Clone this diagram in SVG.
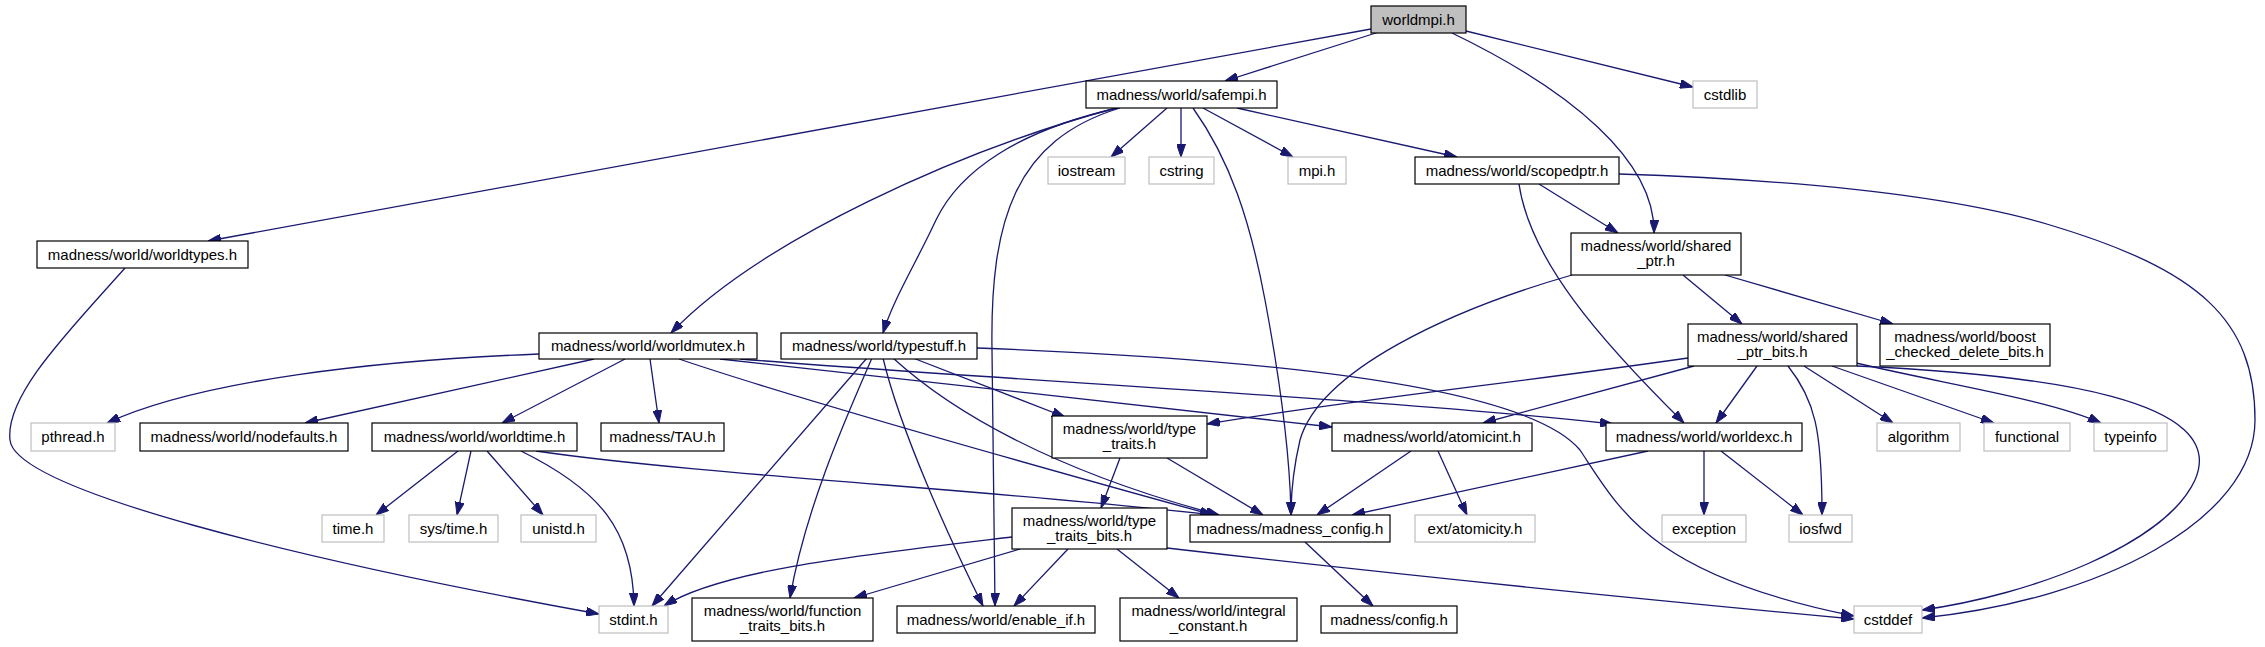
<svg xmlns="http://www.w3.org/2000/svg" width="2265" height="647" viewBox="0 0 2265 647">
<style>
.n rect{fill:#fff;stroke:#000;stroke-width:1.2}
.g rect{fill:#fff;stroke:#bfbfbf;stroke-width:1.2}
.r rect{fill:#bfbfbf;stroke:#000;stroke-width:1.2}
text{font-family:"Liberation Sans",Arial,sans-serif;font-size:15px;fill:#000;text-anchor:middle}
#edges path{fill:none;stroke:#191970;stroke-width:1.3;marker-end:url(#a)}
</style>
<defs>
<marker id="a" markerUnits="userSpaceOnUse" viewBox="0 0 13 9" refX="13" refY="4.5" markerWidth="13" markerHeight="9" orient="auto">
<path d="M0,0 L13,4.5 L0,9 z" fill="#191970" stroke="#191970" stroke-width="1"/>
</marker>
</defs>
<rect width="2265" height="647" fill="#fff"/>
<g id="edges">
<path d="M1371,29 L208,241"/>
<path d="M1379,32 L1225,81"/>
<path d="M1452,33 C1570,90 1655,160 1654,233"/>
<path d="M1466,31 L1693,87"/>
<path d="M1116,108 C960,150 760,240 671,333"/>
<path d="M1118,108 C1020,130 960,170 936,220 C915,265 893,300 883,333"/>
<path d="M1167,108 L1111,157"/>
<path d="M1181,108 L1181,157"/>
<path d="M1203,108 L1293,157"/>
<path d="M1237,108 L1457,157"/>
<path d="M1120,108 C1015,140 990,220 992,350 C993,450 995,540 995,606"/>
<path d="M1193,108 C1230,160 1250,220 1265,300 C1280,380 1290,450 1291,515"/>
<path d="M1539,184 L1618,233"/>
<path d="M1519,184 C1530,260 1600,340 1684,423"/>
<path d="M1619,174 C1800,180 1950,195 2050,225 C2200,270 2255,320 2255,420 C2255,520 2100,600 1922,618"/>
<path d="M125,268 C70,330 5,395 10,440 C15,490 300,560 599,614"/>
<path d="M1572,275 C1450,310 1320,370 1300,440 C1293,470 1291,490 1291,515"/>
<path d="M1683,275 L1742,324"/>
<path d="M1725,275 L1893,324"/>
<path d="M539,354 C380,360 200,380 107,423"/>
<path d="M594,359 L305,423"/>
<path d="M625,359 L502,423"/>
<path d="M650,359 L659,423"/>
<path d="M679,359 C800,400 1050,470 1213,515"/>
<path d="M720,359 C900,380 1150,405 1332,427"/>
<path d="M740,359 C1000,380 1400,400 1613,424"/>
<path d="M913,358 L1065,417"/>
<path d="M893,358 C950,410 1050,470 1219,515"/>
<path d="M867,358 L652,606"/>
<path d="M872,358 C845,420 805,510 790,598"/>
<path d="M883,358 C900,430 950,540 983,606"/>
<path d="M977,348 C1300,360 1530,390 1580,450 C1620,510 1650,575 1854,616"/>
<path d="M1688,358 C1500,385 1350,400 1207,424"/>
<path d="M1694,366 L1483,423"/>
<path d="M1757,366 L1716,423"/>
<path d="M1788,366 C1815,400 1822,430 1822,515"/>
<path d="M1804,366 L1893,423"/>
<path d="M1832,366 L1994,423"/>
<path d="M1856,363 C1950,385 2050,400 2101,423"/>
<path d="M1857,366 C2050,375 2230,400 2195,480 C2165,545 2030,595 1922,610"/>
<path d="M458,451 L376,515"/>
<path d="M471,451 L457,515"/>
<path d="M487,451 L543,515"/>
<path d="M521,451 C600,490 633,530 634,606"/>
<path d="M536,451 C700,475 1000,490 1213,515"/>
<path d="M1120,458 L1101,508"/>
<path d="M1167,458 L1263,515"/>
<path d="M1411,451 L1317,515"/>
<path d="M1438,451 L1467,515"/>
<path d="M1648,451 L1352,515"/>
<path d="M1704,451 L1704,515"/>
<path d="M1721,451 L1803,515"/>
<path d="M1012,537 C860,555 720,570 664,606"/>
<path d="M1020,549 L854,598"/>
<path d="M1068,549 L1014,606"/>
<path d="M1117,549 L1179,598"/>
<path d="M1167,548 C1400,575 1650,600 1854,619"/>
<path d="M1305,542 L1373,606"/>
</g>
<g id="worldmpi" class="r"><rect x="1371" y="6" width="95" height="27"/><text x="1418.5" y="24.5">worldmpi.h</text></g>
<g id="safempi" class="n"><rect x="1086" y="81" width="191" height="27"/><text x="1181.5" y="99.5">madness/world/safempi.h</text></g>
<g id="cstdlib" class="g"><rect x="1693" y="81" width="64" height="27"/><text x="1725" y="99.5">cstdlib</text></g>
<g id="worldtypes" class="n"><rect x="37" y="241" width="211" height="27"/><text x="142.5" y="259.5">madness/world/worldtypes.h</text></g>
<g id="iostream" class="g"><rect x="1048" y="157" width="77" height="27"/><text x="1086.5" y="175.5">iostream</text></g>
<g id="cstring" class="g"><rect x="1149" y="157" width="65" height="27"/><text x="1181.5" y="175.5">cstring</text></g>
<g id="mpih" class="g"><rect x="1288" y="157" width="58" height="27"/><text x="1317" y="175.5">mpi.h</text></g>
<g id="scopedptr" class="n"><rect x="1415" y="157" width="204" height="27"/><text x="1517" y="175.5">madness/world/scopedptr.h</text></g>
<g id="shared_ptr" class="n"><rect x="1571" y="233" width="170" height="42"/><text x="1656" y="250.5">madness/world/shared</text><text x="1656" y="266">_ptr.h</text></g>
<g id="worldmutex" class="n"><rect x="539" y="333" width="218" height="26"/><text x="648" y="351">madness/world/worldmutex.h</text></g>
<g id="typestuff" class="n"><rect x="781" y="333" width="196" height="26"/><text x="879" y="351">madness/world/typestuff.h</text></g>
<g id="shared_ptr_bits" class="n"><rect x="1688" y="324" width="169" height="42"/><text x="1772.5" y="341.5">madness/world/shared</text><text x="1772.5" y="357">_ptr_bits.h</text></g>
<g id="boost_checked_delete_bits" class="n"><rect x="1880" y="324" width="170" height="42"/><text x="1965" y="341.5">madness/world/boost</text><text x="1965" y="357">_checked_delete_bits.h</text></g>
<g id="pthread" class="g"><rect x="31" y="423" width="84" height="28"/><text x="73" y="441.5">pthread.h</text></g>
<g id="nodefaults" class="n"><rect x="140" y="423" width="208" height="28"/><text x="244" y="441.5">madness/world/nodefaults.h</text></g>
<g id="worldtime" class="n"><rect x="372" y="423" width="205" height="28"/><text x="474.5" y="441.5">madness/world/worldtime.h</text></g>
<g id="tau" class="n"><rect x="601" y="423" width="123" height="28"/><text x="662.5" y="441.5">madness/TAU.h</text></g>
<g id="type_traits" class="n"><rect x="1052" y="416" width="155" height="42"/><text x="1129.5" y="433.5">madness/world/type</text><text x="1129.5" y="449">_traits.h</text></g>
<g id="atomicint" class="n"><rect x="1332" y="423" width="200" height="28"/><text x="1432" y="441.5">madness/world/atomicint.h</text></g>
<g id="worldexc" class="n"><rect x="1606" y="423" width="196" height="28"/><text x="1704" y="441.5">madness/world/worldexc.h</text></g>
<g id="algorithm" class="g"><rect x="1877" y="423" width="83" height="28"/><text x="1918.5" y="441.5">algorithm</text></g>
<g id="functional" class="g"><rect x="1984" y="423" width="86" height="28"/><text x="2027" y="441.5">functional</text></g>
<g id="typeinfo" class="g"><rect x="2094" y="423" width="73" height="28"/><text x="2130.5" y="441.5">typeinfo</text></g>
<g id="time" class="g"><rect x="322" y="515" width="62" height="27"/><text x="353" y="533.5">time.h</text></g>
<g id="systime" class="g"><rect x="409" y="515" width="89" height="27"/><text x="453.5" y="533.5">sys/time.h</text></g>
<g id="unistd" class="g"><rect x="521" y="515" width="75" height="27"/><text x="558.5" y="533.5">unistd.h</text></g>
<g id="type_traits_bits" class="n"><rect x="1012" y="508" width="155" height="41"/><text x="1089.5" y="525.5">madness/world/type</text><text x="1089.5" y="541">_traits_bits.h</text></g>
<g id="madness_config" class="n"><rect x="1190" y="515" width="200" height="27"/><text x="1290" y="533.5">madness/madness_config.h</text></g>
<g id="atomicity" class="g"><rect x="1415" y="515" width="120" height="27"/><text x="1475" y="533.5">ext/atomicity.h</text></g>
<g id="exception" class="g"><rect x="1662" y="515" width="84" height="27"/><text x="1704" y="533.5">exception</text></g>
<g id="iosfwd" class="g"><rect x="1789" y="515" width="63" height="27"/><text x="1820.5" y="533.5">iosfwd</text></g>
<g id="stdint" class="g"><rect x="599" y="606" width="69" height="27"/><text x="633.5" y="624.5">stdint.h</text></g>
<g id="function_traits_bits" class="n"><rect x="692" y="598" width="181" height="43"/><text x="782.5" y="615.5">madness/world/function</text><text x="782.5" y="631">_traits_bits.h</text></g>
<g id="enable_if" class="n"><rect x="897" y="606" width="198" height="27"/><text x="996" y="624.5">madness/world/enable_if.h</text></g>
<g id="integral_constant" class="n"><rect x="1120" y="598" width="177" height="43"/><text x="1208.5" y="615.5">madness/world/integral</text><text x="1208.5" y="631">_constant.h</text></g>
<g id="config" class="n"><rect x="1321" y="606" width="136" height="27"/><text x="1389" y="624.5">madness/config.h</text></g>
<g id="cstddef" class="g"><rect x="1854" y="606" width="68" height="27"/><text x="1888" y="624.5">cstddef</text></g>
</svg>
